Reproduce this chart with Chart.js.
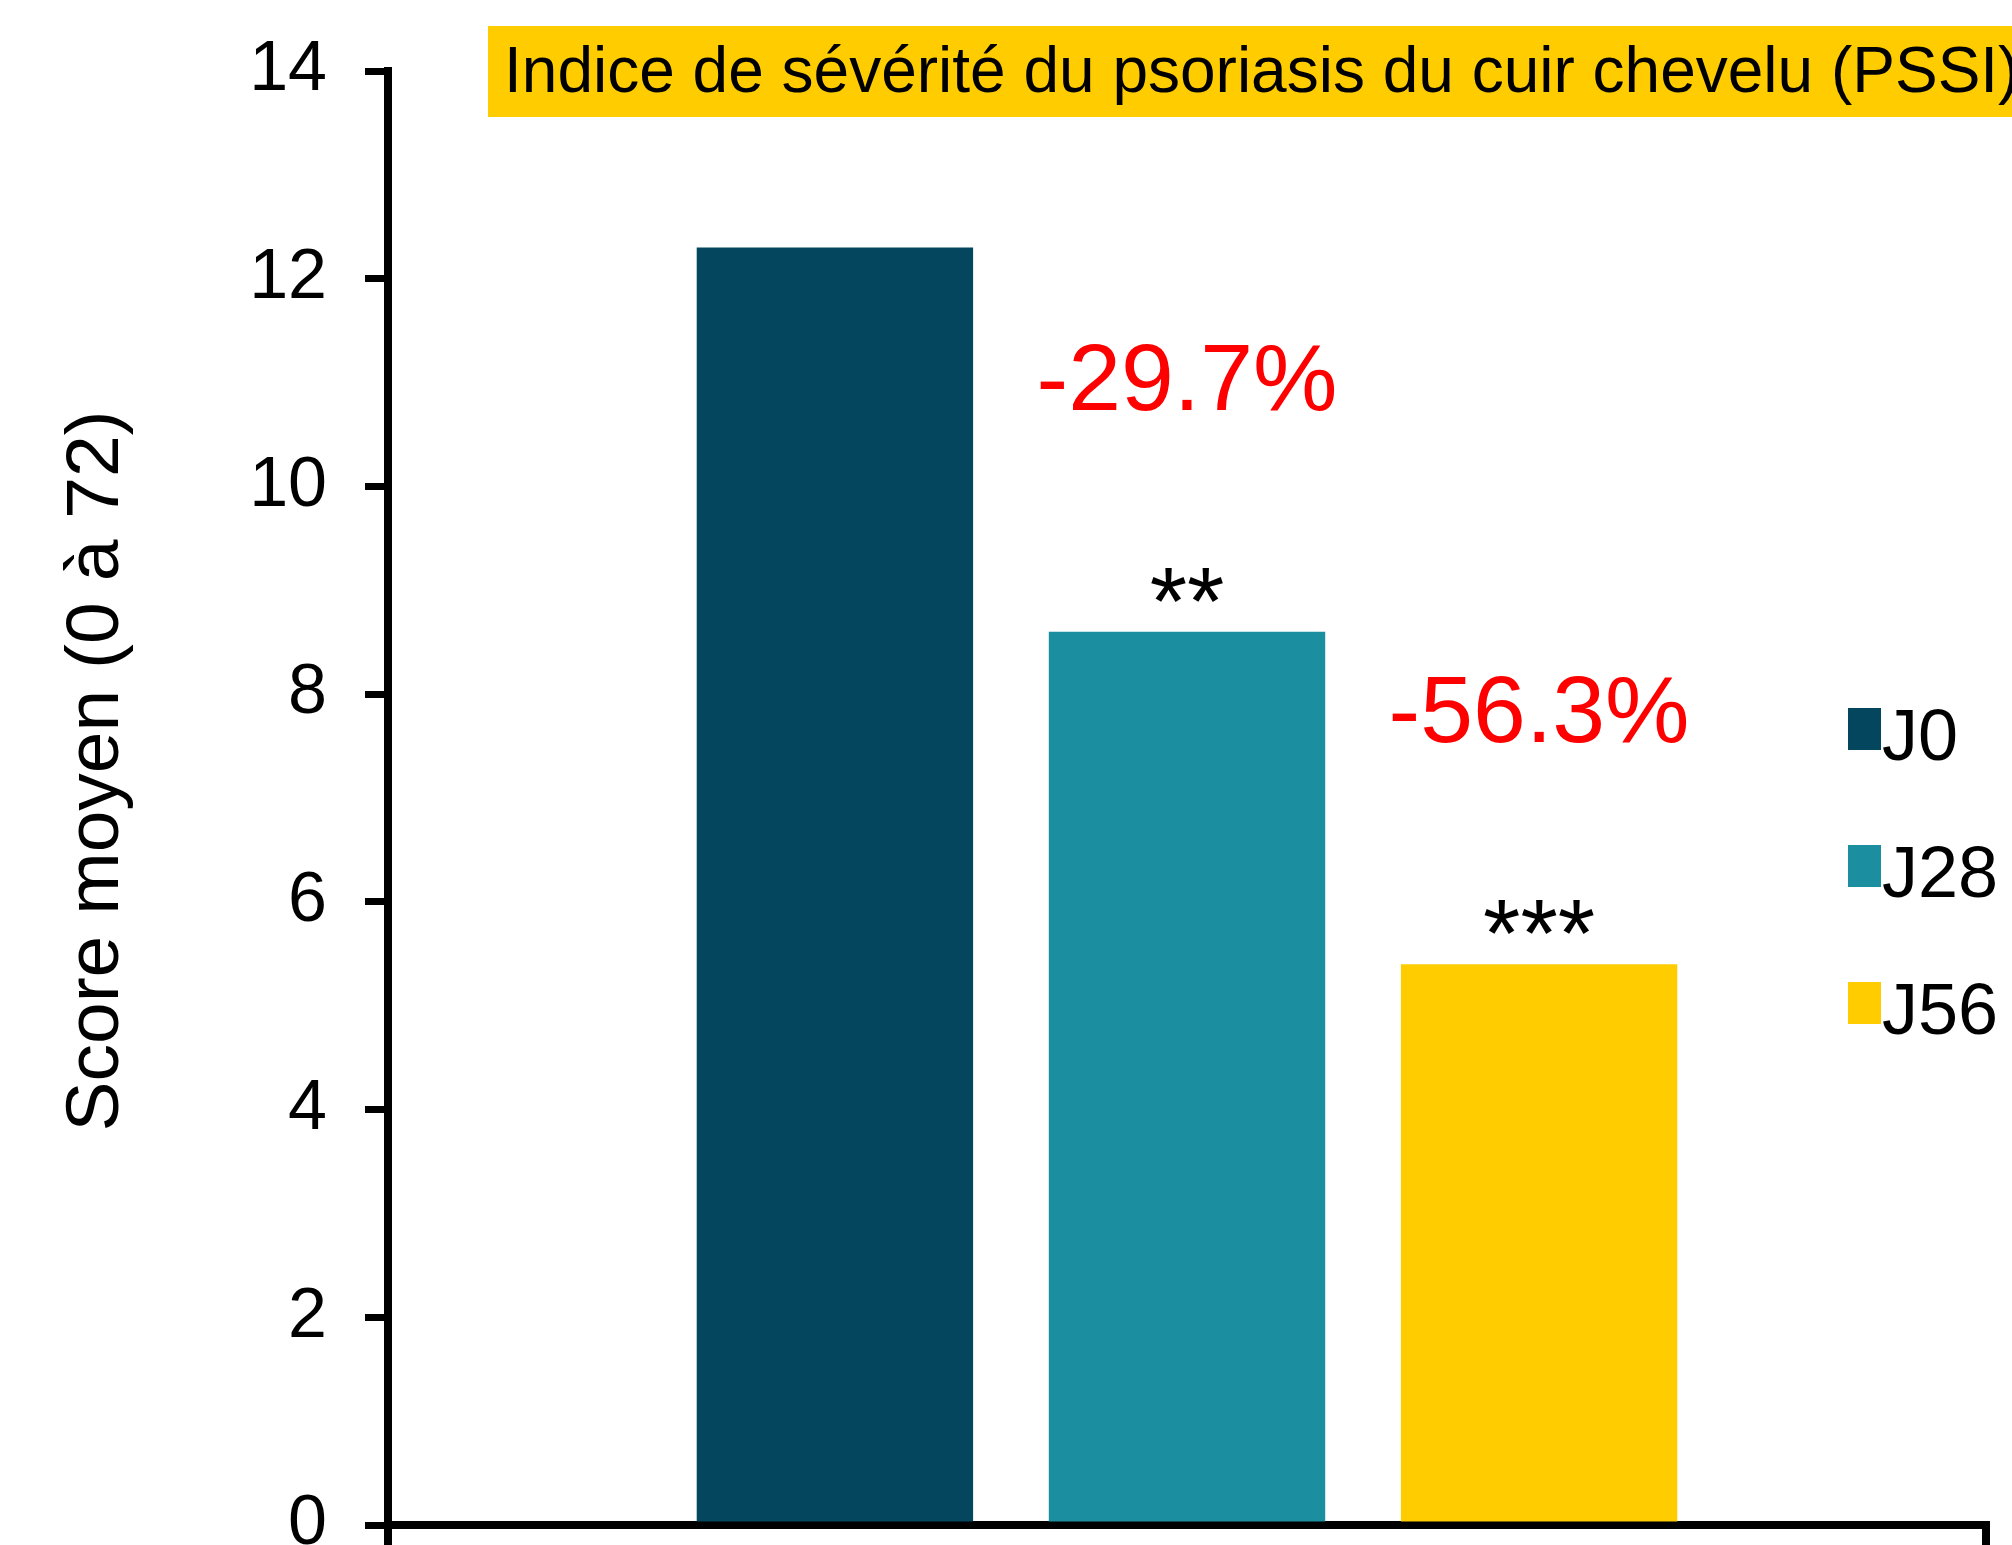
<!DOCTYPE html>
<html>
<head>
<meta charset="utf-8">
<script src="https://cdn.jsdelivr.net/npm/chart.js@4"></script>
<style>
  body { margin: 0; background: #fff; }
  #wrap { width: 2012px; height: 1545px; }
</style>
</head>
<body>
<div id="wrap"><canvas id="pssiChart" width="2012" height="1545"></canvas></div>
<script>
// data
const seriesNames = ['J0', 'J28', 'J56'];
const seriesValues = [12.3, 8.6, 5.4];
const seriesColors = ['#03465E', '#1B8EA0', '#FFCC00'];
const changeLabels = ['', '-29.7%', '-56.3%'];
const sigLabels = ['', '**', '***'];
const yTickValues = [0, 2, 4, 6, 8, 10, 12, 14];

const titleText = 'Indice de sévérité du psoriasis du cuir chevelu (PSSI)';
const yTitleText = 'Score moyen (0 à 72)';
const FONT = "'Liberation Sans', Arial, sans-serif";

// yellow title box + rotated y title
const decorPlugin = {
    id: 'decor',
    beforeDraw(chart) {
        const ctx = chart.ctx;
        ctx.save();
        ctx.fillStyle = '#FFCC00';
        ctx.fillRect(488, 26, 1524, 91);
        ctx.fillStyle = '#000';
        ctx.font = '64px ' + FONT;
        ctx.textAlign = 'left';
        ctx.textBaseline = 'alphabetic';
        ctx.fillText(titleText, 504, 92);

        ctx.translate(118, 771);
        ctx.rotate(-Math.PI / 2);
        ctx.font = '75px ' + FONT;
        ctx.textAlign = 'center';
        ctx.fillText(yTitleText, 0, 0);
        ctx.restore();
    }
};

// stars, percent changes and the legend on the right
const labelPlugin = {
    id: 'barLabels',
    afterDatasetsDraw(chart) {
        const ctx = chart.ctx;
        ctx.save();
        ctx.textAlign = 'center';
        ctx.textBaseline = 'alphabetic';
        chart.data.datasets.forEach((ds, i) => {
            const bar = chart.getDatasetMeta(i).data[0];
            if (sigLabels[i]) {
                ctx.fillStyle = '#000';
                ctx.font = '96px ' + FONT;
                ctx.fillText(sigLabels[i], bar.x, bar.y + 2);
            }
            if (changeLabels[i]) {
                ctx.fillStyle = '#FF0000';
                ctx.font = '95px ' + FONT;
                ctx.fillText(changeLabels[i], bar.x, bar.y - 222);
            }
        });

        ctx.textAlign = 'left';
        ctx.font = '72px ' + FONT;
        chart.data.datasets.forEach((ds, i) => {
            const top = 708 + i * 137;
            ctx.fillStyle = ds.backgroundColor;
            ctx.fillRect(1848, top, 33, 42);
            ctx.fillStyle = '#000';
            ctx.fillText(ds.label, 1882, top + 52);
        });
        ctx.restore();
    }
};

const ctx = document.getElementById('pssiChart').getContext('2d');

new Chart(ctx, {
    type: 'bar',
    data: {
        labels: [''],
        datasets: seriesNames.map((name, i) => ({
            label: name,
            data: [seriesValues[i]],
            backgroundColor: seriesColors[i],
            categoryPercentage: 0.661,
            barPercentage: 0.785
        }))
    },
    options: {
        responsive: false,
        animation: false,
        layout: { padding: { top: 71, right: 26, bottom: 0, left: 0 } },
        plugins: {
            legend: { display: false },
            tooltip: { enabled: false }
        },
        scales: {
            x: {
                afterFit(scale) {
                    scale.height = 20;
                },
                grid: {
                    drawOnChartArea: false,
                    drawTicks: true,
                    tickLength: 20,
                    color: '#000',
                    lineWidth: 8
                },
                border: { color: '#000', width: 8 },
                ticks: { display: false }
            },
            y: {
                min: 0,
                max: 14,
                afterBuildTicks(scale) {
                    scale.ticks = yTickValues.map(v => ({ value: v }));
                },
                afterFit(scale) {
                    // fixed axis width, no extra room for label overhang
                    scale.width = 388;
                    scale.paddingTop = 0;
                    scale.paddingBottom = 0;
                },
                grid: {
                    drawOnChartArea: false,
                    drawTicks: true,
                    tickLength: 23,
                    color: '#000',
                    lineWidth: 7
                },
                border: { color: '#000', width: 8 },
                ticks: {
                    color: '#000',
                    padding: 38,
                    font: { family: FONT, size: 70 }
                }
            }
        }
    },
    plugins: [decorPlugin, labelPlugin]
});
</script>
</body>
</html>
